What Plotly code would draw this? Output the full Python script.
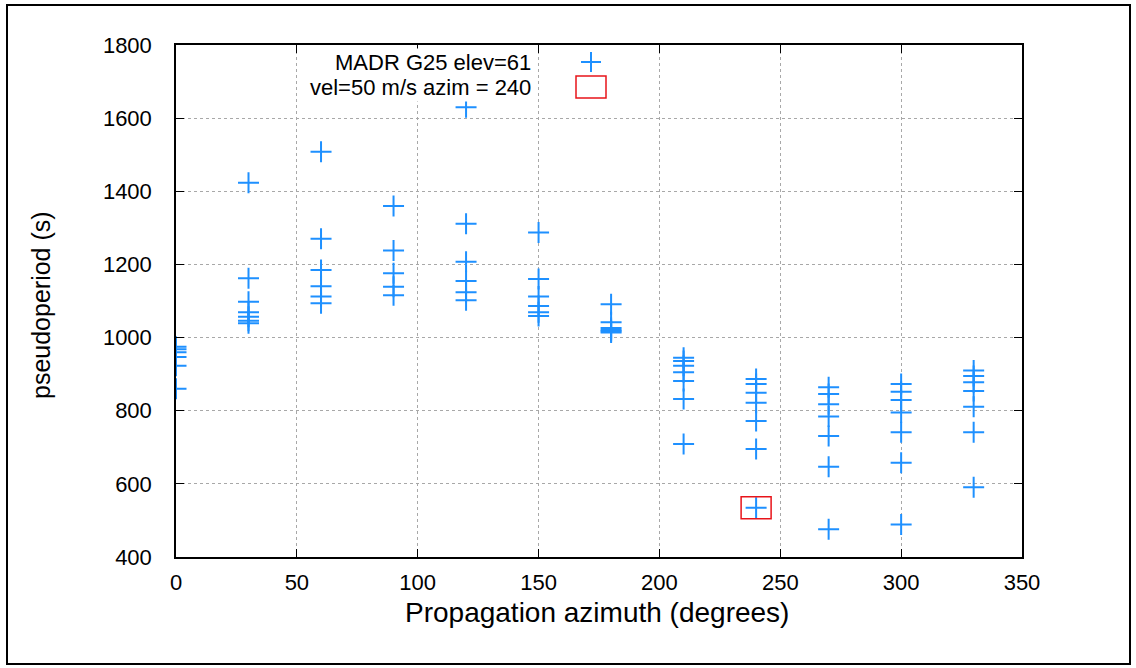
import plotly.graph_objects as go

# Station MADR, satellite G25: pseudoperiod samples per propagation azimuth
azimuths = [0, 30, 60, 90, 120, 150, 180, 210, 240, 270, 300, 330]
pseudoperiods = [
    [975, 968, 960, 947, 923, 860],
    [1423, 1162, 1098, 1069, 1057, 1046, 1039],
    [1508, 1270, 1185, 1140, 1112, 1094],
    [1360, 1238, 1176, 1139, 1116],
    [1630, 1311, 1207, 1155, 1124, 1102],
    [1287, 1160, 1112, 1086, 1069, 1059],
    [1091, 1042, 1026, 1021, 1017, 1014],
    [945, 936, 923, 905, 881, 832, 709],
    [887, 873, 849, 822, 772, 695, 535],
    [864, 846, 818, 784, 731, 647, 476],
    [873, 852, 829, 795, 741, 658, 489],
    [910, 895, 878, 854, 811, 741, 591],
]

# Model point: vel=50 m/s, azim=240
model_azim = [240]
model_period = [535]

series_label = "MADR G25 elev=61"
model_label = "vel=50 m/s azim = 240"
x_title = "Propagation azimuth (degrees)"
y_title = "pseudoperiod (s)"

x_ticks = [0, 50, 100, 150, 200, 250, 300, 350]
y_ticks = [400, 600, 800, 1000, 1200, 1400, 1600, 1800]

BLUE = "#1e90ff"
RED = "#e8141a"
FONT = "Liberation Sans"

xs, ys = [], []
for az, vals in zip(azimuths, pseudoperiods):
    for v in vals:
        xs.append(az)
        ys.append(v)

fig = go.Figure()
fig.add_trace(go.Scatter(
    x=xs, y=ys, mode="markers", name=series_label, showlegend=False,
    marker=dict(symbol="cross-thin", size=15, color=BLUE,
                line=dict(color=BLUE, width=2)),
))
fig.add_trace(go.Scatter(
    x=model_azim, y=model_period, mode="markers", name=model_label,
    showlegend=False, marker=dict(size=1, opacity=0),
))

shapes = []
# red open box around the model point (wider than tall)
for ax_, ay_ in zip(model_azim, model_period):
    shapes.append(dict(
        type="rect", xref="x", yref="y", xsizemode="pixel", ysizemode="pixel",
        xanchor=ax_, yanchor=ay_, x0=-15, x1=15, y0=-11, y1=11,
        line=dict(color=RED, width=1.5), fillcolor="rgba(0,0,0,0)",
    ))

# plot geometry in pixels
L, R, T, B = 176, 1022, 45, 557
W, H = R - L, B - T


def px(x):
    return (x - L) / W


def py(y):
    return (B - y) / H


# outer frame around the whole figure
shapes.append(dict(type="rect", xref="paper", yref="paper",
                   x0=px(7), x1=px(1130), y0=py(5), y1=py(664),
                   line=dict(color="black", width=2), layer="above"))

# key samples drawn at the right of the key text
kx, k1y, k2y = 591, 62, 87
shapes.append(dict(type="line", xref="paper", yref="paper",
                   x0=px(kx - 10), x1=px(kx + 10), y0=py(k1y), y1=py(k1y),
                   line=dict(color=BLUE, width=2)))
shapes.append(dict(type="line", xref="paper", yref="paper",
                   x0=px(kx), x1=px(kx), y0=py(k1y - 10), y1=py(k1y + 10),
                   line=dict(color=BLUE, width=2)))
shapes.append(dict(type="rect", xref="paper", yref="paper",
                   x0=px(kx - 15), x1=px(kx + 15), y0=py(k2y - 11), y1=py(k2y + 11),
                   line=dict(color=RED, width=1.5), fillcolor="white"))

annotations = [
    dict(text=series_label, xref="paper", yref="paper", x=px(533), y=py(k1y),
         xanchor="right", yanchor="middle", showarrow=False,
         font=dict(family=FONT, size=22, color="black"), bgcolor="white"),
    dict(text=model_label, xref="paper", yref="paper", x=px(533), y=py(k2y),
         xanchor="right", yanchor="middle", showarrow=False,
         font=dict(family=FONT, size=22, color="black"), bgcolor="white"),
    dict(text=x_title, xref="paper", yref="paper", x=px(597), y=py(612),
         xanchor="center", yanchor="middle", showarrow=False,
         font=dict(family=FONT, size=28, color="black")),
    dict(text=y_title, xref="paper", yref="paper", x=px(41), y=py(305),
         xanchor="center", yanchor="middle", showarrow=False, textangle=-90,
         font=dict(family=FONT, size=25, color="black")),
]

axis_common = dict(
    showline=True, linecolor="black", linewidth=1.5, mirror="ticks",
    ticks="inside", ticklen=8, tickwidth=1, tickcolor="black",
    showgrid=True, gridcolor="#a8a8a8", griddash="dot", gridwidth=1,
    zeroline=False, tickfont=dict(family=FONT, size=22, color="black"),
)

fig.update_layout(
    width=1136, height=668,
    margin=dict(l=L, r=1136 - R, t=T, b=668 - B),
    paper_bgcolor="white", plot_bgcolor="white",
    showlegend=False,
    xaxis=dict(range=[0, 350], tickvals=x_ticks, ticklabelstandoff=5,
               **axis_common),
    yaxis=dict(range=[400, 1800], tickvals=y_ticks, ticklabelstandoff=18,
               **axis_common),
    shapes=shapes,
    annotations=annotations,
)

fig.write_html("out.html")
